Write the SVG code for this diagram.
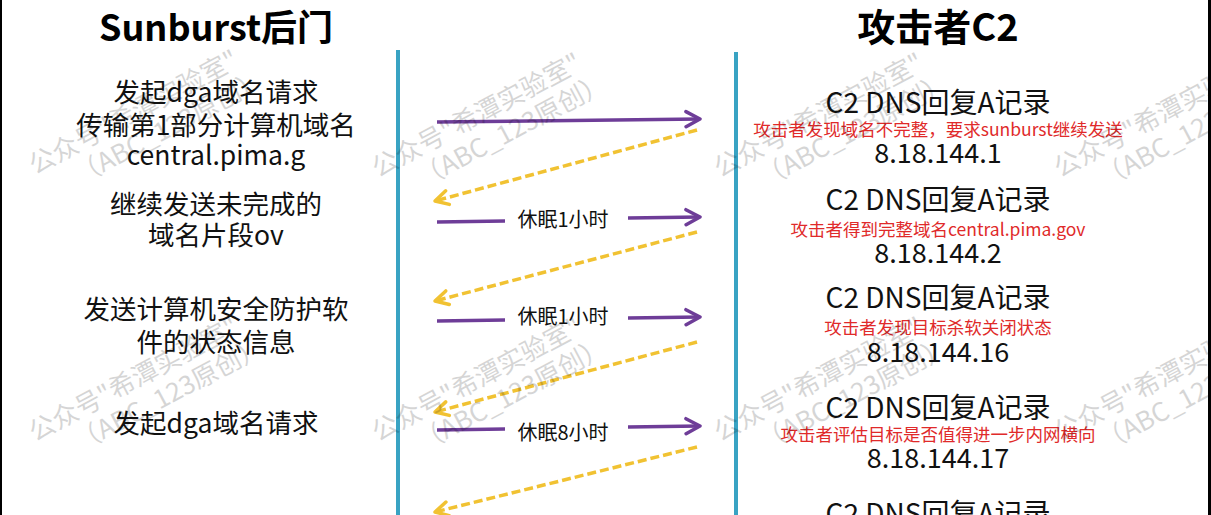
<svg xmlns="http://www.w3.org/2000/svg" xmlns:xlink="http://www.w3.org/1999/xlink" width="1211" height="515" viewBox="0 0 1211 515">
<style>
text{font-family:"Noto Sans CJK SC","Noto Sans",sans-serif;}
.title{font-size:36px;font-weight:bold;fill:#000;text-anchor:middle;}
.left{font-size:26.5px;fill:#111;text-anchor:middle;}
.rt{font-size:28px;fill:#111;text-anchor:middle;}
.ip{font-size:27px;fill:#111;text-anchor:middle;}
.red{font-size:17.5px;fill:#e02a2a;text-anchor:middle;}
.lbl{font-size:20px;fill:#111;text-anchor:middle;}
.wm{font-size:26px;fill:#000;opacity:0.16;}
.life{stroke:#39a3c3;stroke-width:4;fill:none;}
.req{stroke:#6e3d98;stroke-width:3.5;fill:none;marker-end:url(#ap);}
.reqn{stroke:#6e3d98;stroke-width:3.5;fill:none;}
.resp{stroke:#f1c232;stroke-width:3.5;fill:none;stroke-dasharray:9 4;marker-end:url(#ay);}
</style>
<defs>
<marker id="ap" markerUnits="userSpaceOnUse" markerWidth="24" markerHeight="24" refX="16" refY="10" orient="auto">
<path d="M2,2.5 L16,10 L2,17.5" fill="none" stroke="#6e3d98" stroke-width="3.5" stroke-linecap="round" stroke-linejoin="round"/>
</marker>
<marker id="ay" markerUnits="userSpaceOnUse" markerWidth="24" markerHeight="24" refX="16" refY="10" orient="auto">
<path d="M3,3 L16,10 L3,17" fill="none" stroke="#f1c232" stroke-width="3.5" stroke-linecap="round" stroke-linejoin="round"/>
</marker>
<g id="wmk">
<text class="wm" x="0" y="0">公众号"希潭实验室"</text>
<text class="wm" x="35" y="30">（ABC_123原创）</text>
</g>
</defs>
<rect x="0" y="0" width="1211" height="515" fill="#fff"/>
<rect x="0" y="0" width="2" height="515" fill="#000"/>
<rect x="1208" y="0" width="3" height="515" fill="#000"/>

<g id="lifelines">
<line class="life" x1="398" y1="50" x2="398" y2="515"/>
<line class="life" x1="736" y1="52" x2="736" y2="515"/>
</g>

<g id="backdoor">
<text class="title" x="216" y="41">Sunburst后门</text>
<text class="left" x="216" y="102">发起dga域名请求</text>
<text class="left" x="216" y="135">传输第1部分计算机域名</text>
<text class="left" x="216" y="165">central.pima.g</text>
<text class="left" x="216" y="214">继续发送未完成的</text>
<text class="left" x="216" y="245">域名片段ov</text>
<text class="left" x="216" y="319">发送计算机安全防护软</text>
<text class="left" x="216" y="352">件的状态信息</text>
<text class="left" x="216" y="433">发起dga域名请求</text>
</g>

<g id="c2">
<text class="title" x="938" y="41" style="font-size:38px">攻击者C2</text>
<text class="rt" x="938" y="113">C2 DNS回复A记录</text>
<text class="red" x="938" y="136">攻击者发现域名不完整，要求sunburst继续发送</text>
<text class="ip" x="938" y="163">8.18.144.1</text>
<text class="rt" x="938" y="210">C2 DNS回复A记录</text>
<text class="red" x="938" y="236">攻击者得到完整域名central.pima.gov</text>
<text class="ip" x="938" y="263">8.18.144.2</text>
<text class="rt" x="938" y="308">C2 DNS回复A记录</text>
<text class="red" x="938" y="334">攻击者发现目标杀软关闭状态</text>
<text class="ip" x="938" y="362">8.18.144.16</text>
<text class="rt" x="938" y="418">C2 DNS回复A记录</text>
<text class="red" x="938" y="441">攻击者评估目标是否值得进一步内网横向</text>
<text class="ip" x="938" y="468">8.18.144.17</text>
<text class="rt" x="938" y="524">C2 DNS回复A记录</text>
</g>

<g id="connectors">
<line class="req" x1="437" y1="122" x2="700" y2="119"/>
<line class="resp" x1="697" y1="130" x2="435" y2="201"/>
<line class="reqn" x1="437" y1="222" x2="505" y2="221"/>
<line class="req" x1="628" y1="218" x2="700" y2="217"/>
<text class="lbl" x="563" y="227">休眠1小时</text>
<line class="resp" x1="697" y1="232" x2="435" y2="301"/>
<line class="reqn" x1="437" y1="321" x2="505" y2="320"/>
<line class="req" x1="628" y1="318" x2="700" y2="317"/>
<text class="lbl" x="563" y="324">休眠1小时</text>
<line class="resp" x1="697" y1="342" x2="435" y2="412"/>
<line class="reqn" x1="437" y1="430" x2="505" y2="429"/>
<line class="req" x1="628" y1="427" x2="700" y2="426"/>
<text class="lbl" x="563" y="440">休眠8小时</text>
<line class="resp" x1="697" y1="447" x2="435" y2="512"/>
</g>

<g id="watermarks">
<use xlink:href="#wmk" transform="translate(35,175) rotate(-28)"/>
<use xlink:href="#wmk" transform="translate(378,178) rotate(-28)"/>
<use xlink:href="#wmk" transform="translate(720,178) rotate(-28)"/>
<use xlink:href="#wmk" transform="translate(1060,178) rotate(-28)"/>
<use xlink:href="#wmk" transform="translate(35,442) rotate(-28)"/>
<use xlink:href="#wmk" transform="translate(378,442) rotate(-28)"/>
<use xlink:href="#wmk" transform="translate(720,442) rotate(-28)"/>
<use xlink:href="#wmk" transform="translate(1060,442) rotate(-28)"/>
</g>
</svg>
